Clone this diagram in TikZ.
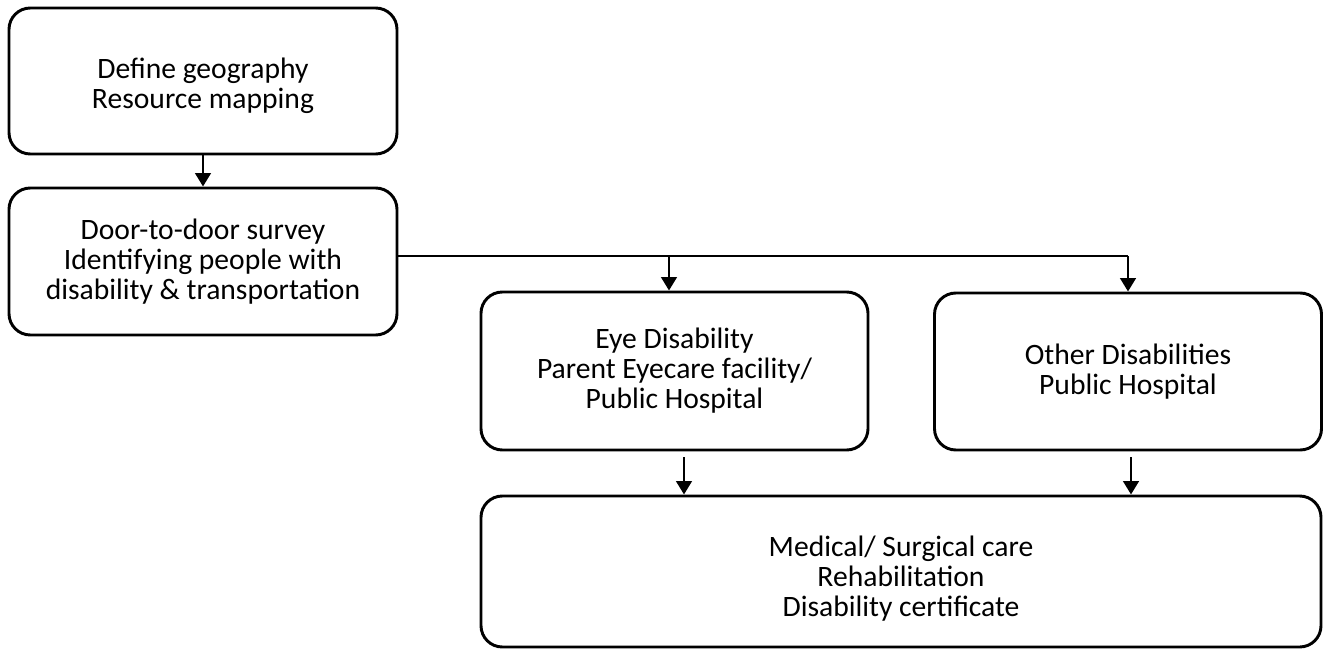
\documentclass[tikz,border=0pt]{standalone}
\usepackage{fontspec}
\setmainfont{Carlito}
\usetikzlibrary{arrows.meta}
\begin{document}
\begin{tikzpicture}[x=0.75pt,y=-0.75pt,
  box/.style={draw=black, line width=2.2pt, rounded corners=16pt, inner sep=0pt},
  txt/.style={align=center, font=\fontsize{22.2}{22.5}\selectfont, inner sep=0pt},
  arr/.style={line width=2.1pt, -{Triangle[length=10pt,width=11.5pt]}},
  conn/.style={line width=2.1pt}]
\useasboundingbox (0,0) rectangle (1323,649);
\node[box, minimum width=388*0.75pt, minimum height=146*0.75pt] (b1) at (203,81) {};
\node[box, minimum width=388*0.75pt, minimum height=147*0.75pt] (b2) at (203,261.5) {};
\node[box, minimum width=387*0.75pt, minimum height=158*0.75pt] (b3) at (674.5,371) {};
\node[box, minimum width=387*0.75pt, minimum height=157*0.75pt] (b4) at (1128,371.5) {};
\node[box, minimum width=840*0.75pt, minimum height=151*0.75pt] (b5) at (901,571.5) {};
\node[txt] (t1) at (203,86) {Define geography\\Resource mapping};
\node[txt] (t2) at (203,262) {Door-to-door survey\\Identifying people with\\disability \& transportation};
\node[txt] (t3) at (674.5,371) {Eye Disability\\Parent Eyecare facility/\\Public Hospital};
\node[txt] (t4) at (1128,371.5) {Other Disabilities\\Public Hospital};
\node[txt] (t5) at (901,579) {Medical/ Surgical care\\Rehabilitation\\Disability certificate};
\draw[arr] (b1.south) -- (b2.north);
\coordinate (s1) at (669,256);
\coordinate (s2) at (1128,256);
\draw[conn] (b2.east |- s1) -- (s2);
\draw[arr] (s1) -- (s1 |- b3.north);
\draw[arr] (s2) -- (s2 |- b4.north);
\coordinate (a1) at (684,457);
\coordinate (a2) at (1131,457);
\draw[arr] (a1) -- (a1 |- b5.north);
\draw[arr] (a2) -- (a2 |- b5.north);
\end{tikzpicture}
\end{document}
